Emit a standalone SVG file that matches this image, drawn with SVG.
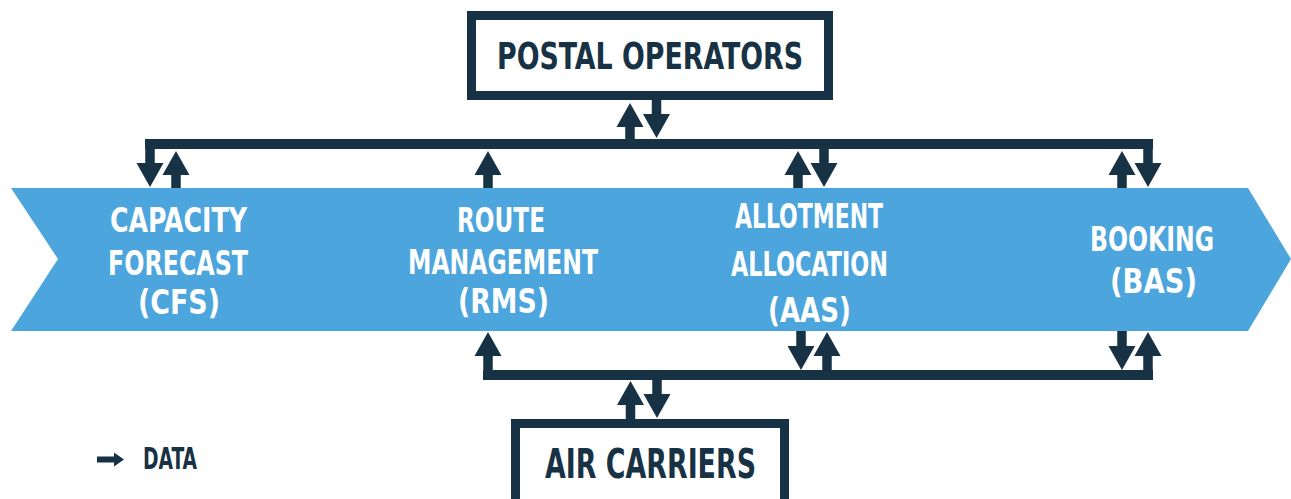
<svg xmlns="http://www.w3.org/2000/svg" width="1291" height="499" viewBox="0 0 1291 499">
  <defs>
    <style>
      .bus { stroke: #173244; stroke-width: 10; fill: none; }
      .shaft { stroke: #173244; stroke-width: 9.5; fill: none; marker-end: url(#head); }
      .box { fill: #ffffff; stroke: #173244; stroke-width: 9; }
      .lbl { font-family: "Liberation Sans Narrow", "DejaVu Sans Condensed", "Liberation Sans", sans-serif; font-stretch: condensed; font-weight: bold; text-anchor: middle; }
      .stage { fill: #ffffff; font-size: 33px; }
      .actor { fill: #173244; }
    </style>
    <marker id="head" markerUnits="userSpaceOnUse" markerWidth="24" markerHeight="28" viewBox="0 -14 24 28" refX="0" refY="0" orient="auto">
      <path d="M0,-13.5 L24,0 L0,13.5 Z" fill="#173244"/>
    </marker>
  </defs>

  <!-- process band -->
  <g id="process-band">
    <polygon points="11,188 1248,188 1291,259 1248,331 11,331 58,259" fill="#4ca5dc"/>
  </g>

  <!-- stages -->
  <g id="cfs" class="lbl stage">
    <text x="178.5" y="232" textLength="137" lengthAdjust="spacingAndGlyphs">CAPACITY</text>
    <text x="178" y="275" textLength="140" lengthAdjust="spacingAndGlyphs">FORECAST</text>
    <text x="179" y="314" textLength="82" lengthAdjust="spacingAndGlyphs">(CFS)</text>
  </g>
  <g id="rms" class="lbl stage">
    <text x="501" y="232" textLength="88" lengthAdjust="spacingAndGlyphs">ROUTE</text>
    <text x="503" y="274" textLength="190" lengthAdjust="spacingAndGlyphs">MANAGEMENT</text>
    <text x="503.5" y="313" textLength="91" lengthAdjust="spacingAndGlyphs">(RMS)</text>
  </g>
  <g id="aas" class="lbl stage">
    <text x="809" y="228" textLength="148" lengthAdjust="spacingAndGlyphs">ALLOTMENT</text>
    <text x="809.5" y="276" textLength="157" lengthAdjust="spacingAndGlyphs">ALLOCATION</text>
    <text x="809.5" y="322" textLength="83" lengthAdjust="spacingAndGlyphs">(AAS)</text>
  </g>
  <g id="bas" class="lbl stage">
    <text x="1152" y="251" textLength="124" lengthAdjust="spacingAndGlyphs">BOOKING</text>
    <text x="1153.5" y="293" textLength="87" lengthAdjust="spacingAndGlyphs">(BAS)</text>
  </g>

  <!-- actors -->
  <g id="postal-operators">
    <rect class="box" x="471.5" y="15.5" width="357" height="80"/>
    <text class="lbl actor" x="650" y="69" font-size="38" textLength="306" lengthAdjust="spacingAndGlyphs">POSTAL OPERATORS</text>
  </g>
  <g id="air-carriers">
    <rect class="box" x="515.5" y="423.5" width="269" height="100"/>
    <text class="lbl actor" x="650.5" y="478" font-size="41" textLength="211" lengthAdjust="spacingAndGlyphs">AIR CARRIERS</text>
  </g>

  <!-- data flows -->
  <g id="connectors">
    <!-- upper bus: postal operators -->
    <line class="bus" x1="145" y1="144" x2="1153" y2="144"/>
    <line class="shaft" x1="630" y1="144" x2="630" y2="127"/>
    <line class="shaft" x1="656.5" y1="100" x2="656.5" y2="114"/>
    <line class="shaft" x1="150" y1="140" x2="150" y2="163"/>
    <line class="shaft" x1="824" y1="144" x2="824" y2="163"/>
    <line class="shaft" x1="1148" y1="140" x2="1148" y2="163"/>
    <line class="shaft" x1="176" y1="188" x2="176" y2="175"/>
    <line class="shaft" x1="488" y1="188" x2="488" y2="175"/>
    <line class="shaft" x1="798" y1="188" x2="798" y2="175"/>
    <line class="shaft" x1="1122" y1="188" x2="1122" y2="175"/>

    <!-- lower bus: air carriers -->
    <line class="bus" x1="483" y1="375" x2="1153" y2="375"/>
    <line class="shaft" x1="488" y1="380" x2="488" y2="356"/>
    <line class="shaft" x1="827" y1="375" x2="827" y2="356"/>
    <line class="shaft" x1="1148" y1="380" x2="1148" y2="356"/>
    <line class="shaft" x1="801" y1="331" x2="801" y2="346"/>
    <line class="shaft" x1="1122" y1="331" x2="1122" y2="346"/>
    <line class="shaft" x1="630.5" y1="419" x2="630.5" y2="405"/>
    <line class="shaft" x1="657" y1="375" x2="657" y2="394"/>
  </g>

  <!-- legend -->
  <g id="legend">
    <line x1="97" y1="459.5" x2="116" y2="459.5" stroke="#173244" stroke-width="6"/>
    <polygon points="114,452.5 124,459.5 114,466.5" fill="#173244"/>
    <text class="lbl actor" x="170" y="469" font-size="31" textLength="54" lengthAdjust="spacingAndGlyphs">DATA</text>
  </g>
</svg>
